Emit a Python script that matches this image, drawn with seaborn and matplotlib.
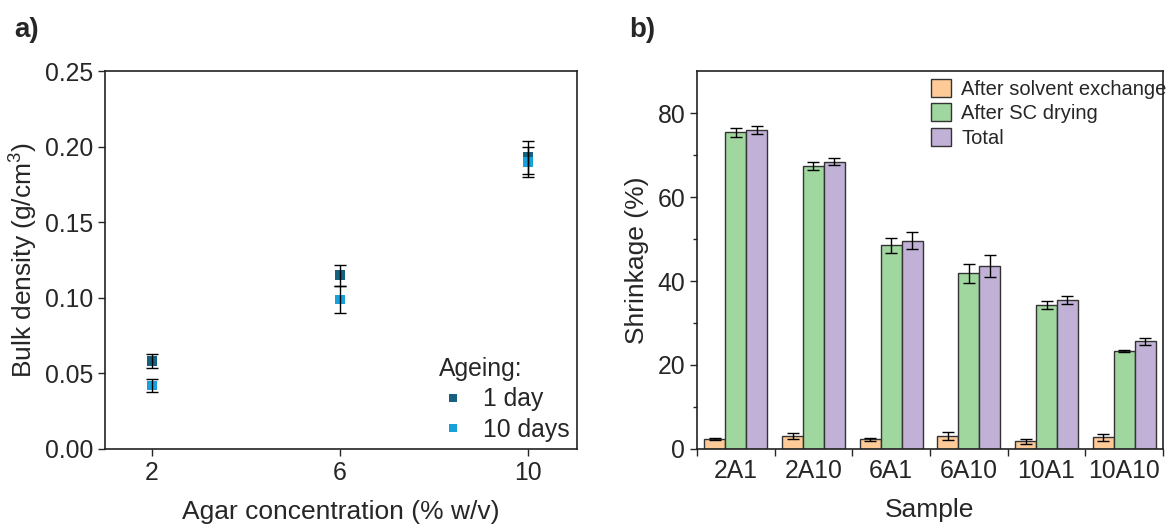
import numpy as np
import pandas as pd
import matplotlib
matplotlib.use("Agg")
import matplotlib.pyplot as plt
import seaborn as sns

# =====================================================
# DATA
# =====================================================

agar_conc = [2, 6, 10]
density_1day = [0.058, 0.115, 0.193]
density_1day_err = [0.0045, 0.007, 0.011]
density_10days = [0.042, 0.099, 0.190]
density_10days_err = [0.004, 0.009, 0.010]

samples = ["2A1", "2A10", "6A1", "6A10", "10A1", "10A10"]
stages = ["After solvent exchange", "After SC drying", "Total"]
shrink_solvent = [2.4, 3.0, 2.3, 3.1, 1.8, 2.8]
shrink_solvent_err = [0.2, 0.7, 0.4, 1.0, 0.5, 0.8]
shrink_sc = [75.4, 67.4, 48.5, 41.8, 34.3, 23.3]
shrink_sc_err = [1.0, 1.0, 1.8, 2.3, 1.0, 0.2]
shrink_total = [76.0, 68.4, 49.6, 43.6, 35.5, 25.6]
shrink_total_err = [0.9, 0.8, 2.0, 2.6, 1.0, 0.8]

# =====================================================
# STYLE
# =====================================================

sns.set_style("ticks")
plt.rcParams["font.family"] = ["Liberation Sans", "DejaVu Sans"]
plt.rcParams["mathtext.fontset"] = "custom"
plt.rcParams["mathtext.rm"] = "Liberation Sans"

TICK_FS = 17.8
LABEL_FS = 19

fig = plt.figure(figsize=(11.71, 5.26), dpi=100)
ax1 = fig.add_axes([0.0897, 0.1464, 0.4031, 0.7186])
ax2 = fig.add_axes([0.5952, 0.1464, 0.3980, 0.7186])

# =====================================================
# PANEL A: BULK DENSITY
# =====================================================

dens = pd.DataFrame({
    "conc": agar_conc * 2,
    "density": density_1day + density_10days,
    "err": density_1day_err + density_10days_err,
    "Ageing": ["1 day"] * 3 + ["10 days"] * 3,
})

sns.scatterplot(
    data=dens,
    x="conc",
    y="density",
    hue="Ageing",
    palette={"1 day": "#17607f", "10 days": "#18a0da"},
    marker="s",
    s=48,
    linewidth=0,
    ax=ax1,
    zorder=3,
)

ax1.errorbar(
    dens["conc"], dens["density"], yerr=dens["err"],
    fmt="none", ecolor="black", elinewidth=1, capsize=4, capthick=1,
    zorder=4,
)

ax1.set_xlim(1, 11.05)
ax1.set_ylim(0, 0.25)
ax1.set_xticks(agar_conc)
ax1.set_yticks([0, 0.05, 0.10, 0.15, 0.20, 0.25])
ax1.set_yticklabels(["0.00", "0.05", "0.10", "0.15", "0.20", "0.25"])
ax1.tick_params(labelsize=TICK_FS, length=5, width=1, direction="out")
ax1.set_xlabel("Agar concentration (% w/v)", fontsize=LABEL_FS, labelpad=11)
ax1.set_ylabel("Bulk density (g/cm$^3$)", fontsize=LABEL_FS, labelpad=4)

leg1 = ax1.legend(
    title="Ageing:",
    loc="lower right",
    frameon=False,
    fontsize=TICK_FS,
    title_fontsize=TICK_FS,
    handletextpad=0.6,
    handlelength=1.2,
    borderaxespad=0.1,
    borderpad=0.2,
    labelspacing=0.25,
    markerscale=0.9,
)
leg1._legend_box.align = "left"

# =====================================================
# PANEL B: SHRINKAGE
# =====================================================

shrink = pd.DataFrame({
    "Sample": samples * 3,
    "value": shrink_solvent + shrink_sc + shrink_total,
    "err": shrink_solvent_err + shrink_sc_err + shrink_total_err,
    "Stage": [s for s in stages for _ in samples],
})

bar_colors = ["#fdca98", "#a0d79e", "#c1b1d7"]

sns.barplot(
    data=shrink,
    x="Sample",
    y="value",
    hue="Stage",
    order=samples,
    hue_order=stages,
    palette=bar_colors,
    errorbar=None,
    width=0.81,
    edgecolor="#333333",
    linewidth=1,
    saturation=1,
    ax=ax2,
)

for container, stage in zip(ax2.containers, stages):
    sub = shrink[shrink["Stage"] == stage]
    xs = [p.get_x() + p.get_width() / 2 for p in container.patches]
    ax2.errorbar(
        xs, sub["value"].values, yerr=sub["err"].values,
        fmt="none", ecolor="black", elinewidth=1, capsize=4, capthick=1,
        zorder=4,
    )

ax2.set_xlim(-0.5, len(samples) - 0.5)
ax2.set_ylim(0, 90)
ax2.set_yticks([0, 20, 40, 60, 80])
ax2.set_yticks([10, 30, 50, 70], minor=True)

# group boundaries get the tick marks, labels sit at the centres
ax2.set_xticks(np.arange(len(samples) + 1) - 0.5)
ax2.set_xticklabels([])
ax2.set_xticks(np.arange(len(samples)), minor=True)
ax2.set_xticklabels(samples, minor=True)
ax2.tick_params(axis="x", which="minor", length=0, labelsize=TICK_FS, pad=7)
ax2.tick_params(axis="both", which="major", labelsize=TICK_FS, length=5, width=1)
ax2.tick_params(axis="y", which="minor", length=3, width=1)

ax2.set_xlabel("Sample", fontsize=LABEL_FS, labelpad=11)
ax2.set_ylabel("Shrinkage (%)", fontsize=LABEL_FS, labelpad=6)

ax2.legend(
    loc="upper right",
    bbox_to_anchor=(1.025, 1.0),
    frameon=False,
    fontsize=14.5,
    handlelength=1.0,
    handleheight=1.0,
    handletextpad=0.5,
    labelspacing=0.22,
    borderaxespad=0.1,
    borderpad=0.3,
)

for ax in (ax1, ax2):
    for side in ax.spines.values():
        side.set_visible(True)
        side.set_linewidth(1.2)
        side.set_color("#222222")

# =====================================================
# PANEL LABELS
# =====================================================

fig.text(0.012, 0.93, "a)", fontsize=20, fontweight="bold")
fig.text(0.537, 0.93, "b)", fontsize=20, fontweight="bold")

fig.savefig("out.png", dpi=100)
plt.close(fig)
